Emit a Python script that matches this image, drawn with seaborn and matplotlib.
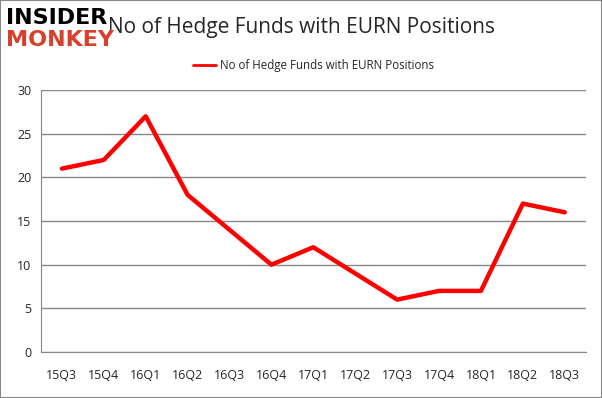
import numpy as np
import pandas as pd
import seaborn as sns
from matplotlib import pyplot as plt

quarters = ['15Q3', '15Q4', '16Q1', '16Q2', '16Q3', '16Q4', '17Q1',
            '17Q2', '17Q3', '17Q4', '18Q1', '18Q2', '18Q3']
funds = [21, 22, 27, 18, 14, 10, 12, 9, 6, 7, 7, 17, 16]
series_name = 'No of Hedge Funds with EURN Positions'

df = pd.DataFrame({'pos': np.arange(len(quarters)), 'funds': funds})

sns.set_style('white')
plt.rcParams['font.family'] = ['Open Sans', 'DejaVu Sans']

fig = plt.figure(figsize=(6.02, 3.98), dpi=100)
ax = fig.add_axes([0.068, 0.1156, 0.905, 0.658])

sns.lineplot(data=df, x='pos', y='funds', color='#ff0000', linewidth=3.2,
             label=series_name, ax=ax)

ax.set_xlim(-0.5, len(quarters) - 0.5)
ax.set_ylim(0, 30)
ax.set_yticks(range(0, 31, 5))
ax.set_xticks(np.arange(len(quarters)))
ax.set_xticklabels(quarters, fontsize=9)
ax.set_xticks(np.arange(len(quarters) + 1) - 0.5, minor=True)
ax.tick_params(axis='x', which='major', length=0, pad=12)
ax.tick_params(axis='x', which='minor', length=5, color='#888888', width=1)
ax.tick_params(axis='y', length=3, color='#888888', labelsize=9, pad=4)
ax.set_xlabel('')
ax.set_ylabel('')
ax.grid(axis='y', color='#888888', linewidth=1)
ax.set_axisbelow(True)
for side in ['top', 'right']:
    ax.spines[side].set_visible(False)
for side in ['left', 'bottom']:
    ax.spines[side].set_color('#888888')

leg = ax.legend(loc='lower center', bbox_to_anchor=(0.5, 1.03), frameon=False,
                fontsize=8.3, handlelength=2.0, handletextpad=0.3)
for h in leg.get_lines():
    h.set_linewidth(2)

fig.text(0.5, 0.932, series_name, ha='center', va='center', fontsize=15)
fig.text(0.01, 0.955, 'INSIDER', ha='left', va='center', fontsize=16,
         fontweight='heavy', color='black', family='DejaVu Sans')
fig.text(0.01, 0.9, 'MONKEY', ha='left', va='center', fontsize=16,
         fontweight='heavy', color='#d9402b', family='DejaVu Sans')

fig.patches.append(plt.Rectangle((0, 0), 1, 1, transform=fig.transFigure,
                                 fill=False, edgecolor='#888888', linewidth=1.5))

fig.savefig('out.png', dpi=100)
